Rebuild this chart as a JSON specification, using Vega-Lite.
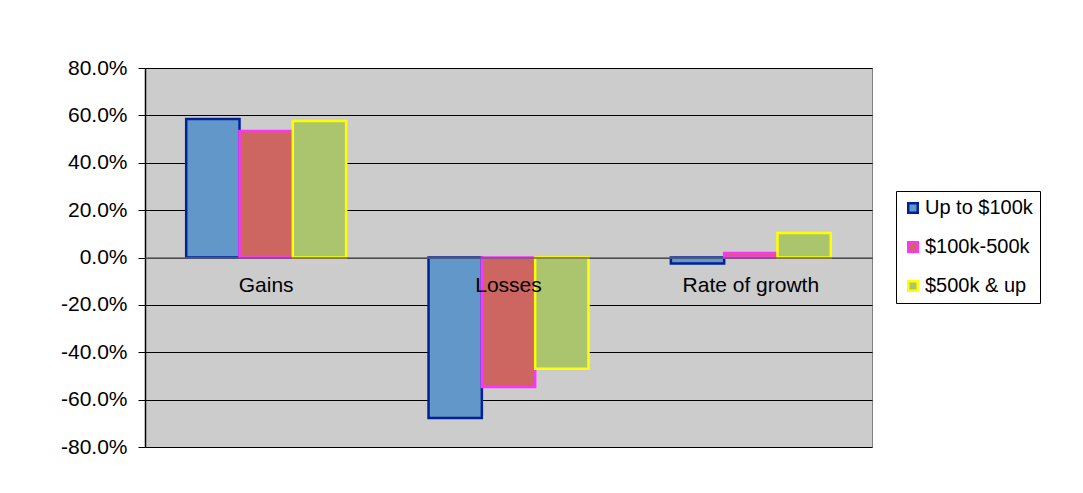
{
  "$schema": "https://vega.github.io/schema/vega-lite/v6.json",
  "width": 727,
  "height": 379,
  "autosize": {"type": "none"},
  "padding": {"left": 145, "top": 68, "right": 211, "bottom": 46},
  "background": "white",
  "config": {
    "view": {"fill": "#CCCCCC", "stroke": "#808080", "strokeWidth": 1},
    "font": "Liberation Sans"
  },
  "data": {
    "values": [
      {"category": "Gains", "series": "Up to $100k", "value": 0.585},
      {"category": "Gains", "series": "$100k-500k", "value": 0.534},
      {"category": "Gains", "series": "$500k & up", "value": 0.576},
      {"category": "Losses", "series": "Up to $100k", "value": -0.678},
      {"category": "Losses", "series": "$100k-500k", "value": -0.547},
      {"category": "Losses", "series": "$500k & up", "value": -0.47},
      {"category": "Rate of growth", "series": "Up to $100k", "value": -0.025},
      {"category": "Rate of growth", "series": "$100k-500k", "value": 0.019},
      {"category": "Rate of growth", "series": "$500k & up", "value": 0.103}
    ]
  },
  "mark": {"type": "bar", "strokeWidth": 2.5},
  "encoding": {
    "x": {
      "field": "category",
      "type": "nominal",
      "sort": ["Gains", "Losses", "Rate of growth"],
      "scale": {"paddingInner": 0.34, "paddingOuter": 0.17},
      "axis": {
        "title": null,
        "orient": "bottom",
        "offset": -189.5,
        "zindex": 1,
        "domainColor": "#666666",
        "domainWidth": 1.5,
        "ticks": false,
        "labelPadding": 17,
        "labelAngle": 0,
        "labelFontSize": 21,
        "labelColor": "black",
        "labelBaseline": "top",
        "grid": false
      }
    },
    "xOffset": {
      "field": "series",
      "type": "nominal",
      "sort": ["Up to $100k", "$100k-500k", "$500k & up"],
      "scale": {"paddingInner": 0, "paddingOuter": 0}
    },
    "y": {
      "field": "value",
      "type": "quantitative",
      "scale": {"domain": [-0.8, 0.8], "nice": false, "zero": false},
      "axis": {
        "title": null,
        "format": ".1%",
        "labelExpr": "replace(datum.label, '−', '-')",
        "values": [-0.8, -0.6, -0.4, -0.2, 0, 0.2, 0.4, 0.6, 0.8],
        "grid": true,
        "gridColor": "black",
        "gridWidth": 1,
        "gridOpacity": 1,
        "domainColor": "black",
        "domainWidth": 1.5,
        "tickColor": "black",
        "tickSize": 7,
        "labelPadding": 11,
        "labelFontSize": 21,
        "labelColor": "black"
      }
    },
    "fill": {
      "field": "series",
      "type": "nominal",
      "scale": {
        "domain": ["Up to $100k", "$100k-500k", "$500k & up"],
        "range": ["#6297C9", "#CD6660", "#ABC46E"]
      },
      "legend": {
        "title": null,
        "orient": "none",
        "legendX": 751,
        "legendY": 123,
        "strokeColor": "black",
        "fillColor": "white",
        "padding": 7,
        "symbolType": "square",
        "symbolSize": 90,
        "symbolStrokeWidth": 2.5,
        "labelFontSize": 20,
        "labelColor": "black",
        "labelOffset": 2,
        "rowPadding": 19
      }
    },
    "stroke": {
      "field": "series",
      "type": "nominal",
      "scale": {
        "domain": ["Up to $100k", "$100k-500k", "$500k & up"],
        "range": ["#002299", "#FF33FF", "#FFFF00"]
      },
      "legend": {
        "title": null,
        "orient": "none",
        "legendX": 751,
        "legendY": 123,
        "strokeColor": "black",
        "fillColor": "white",
        "padding": 7,
        "symbolType": "square",
        "symbolSize": 90,
        "symbolStrokeWidth": 2.5,
        "labelFontSize": 20,
        "labelColor": "black",
        "labelOffset": 2,
        "rowPadding": 19
      }
    }
  }
}
